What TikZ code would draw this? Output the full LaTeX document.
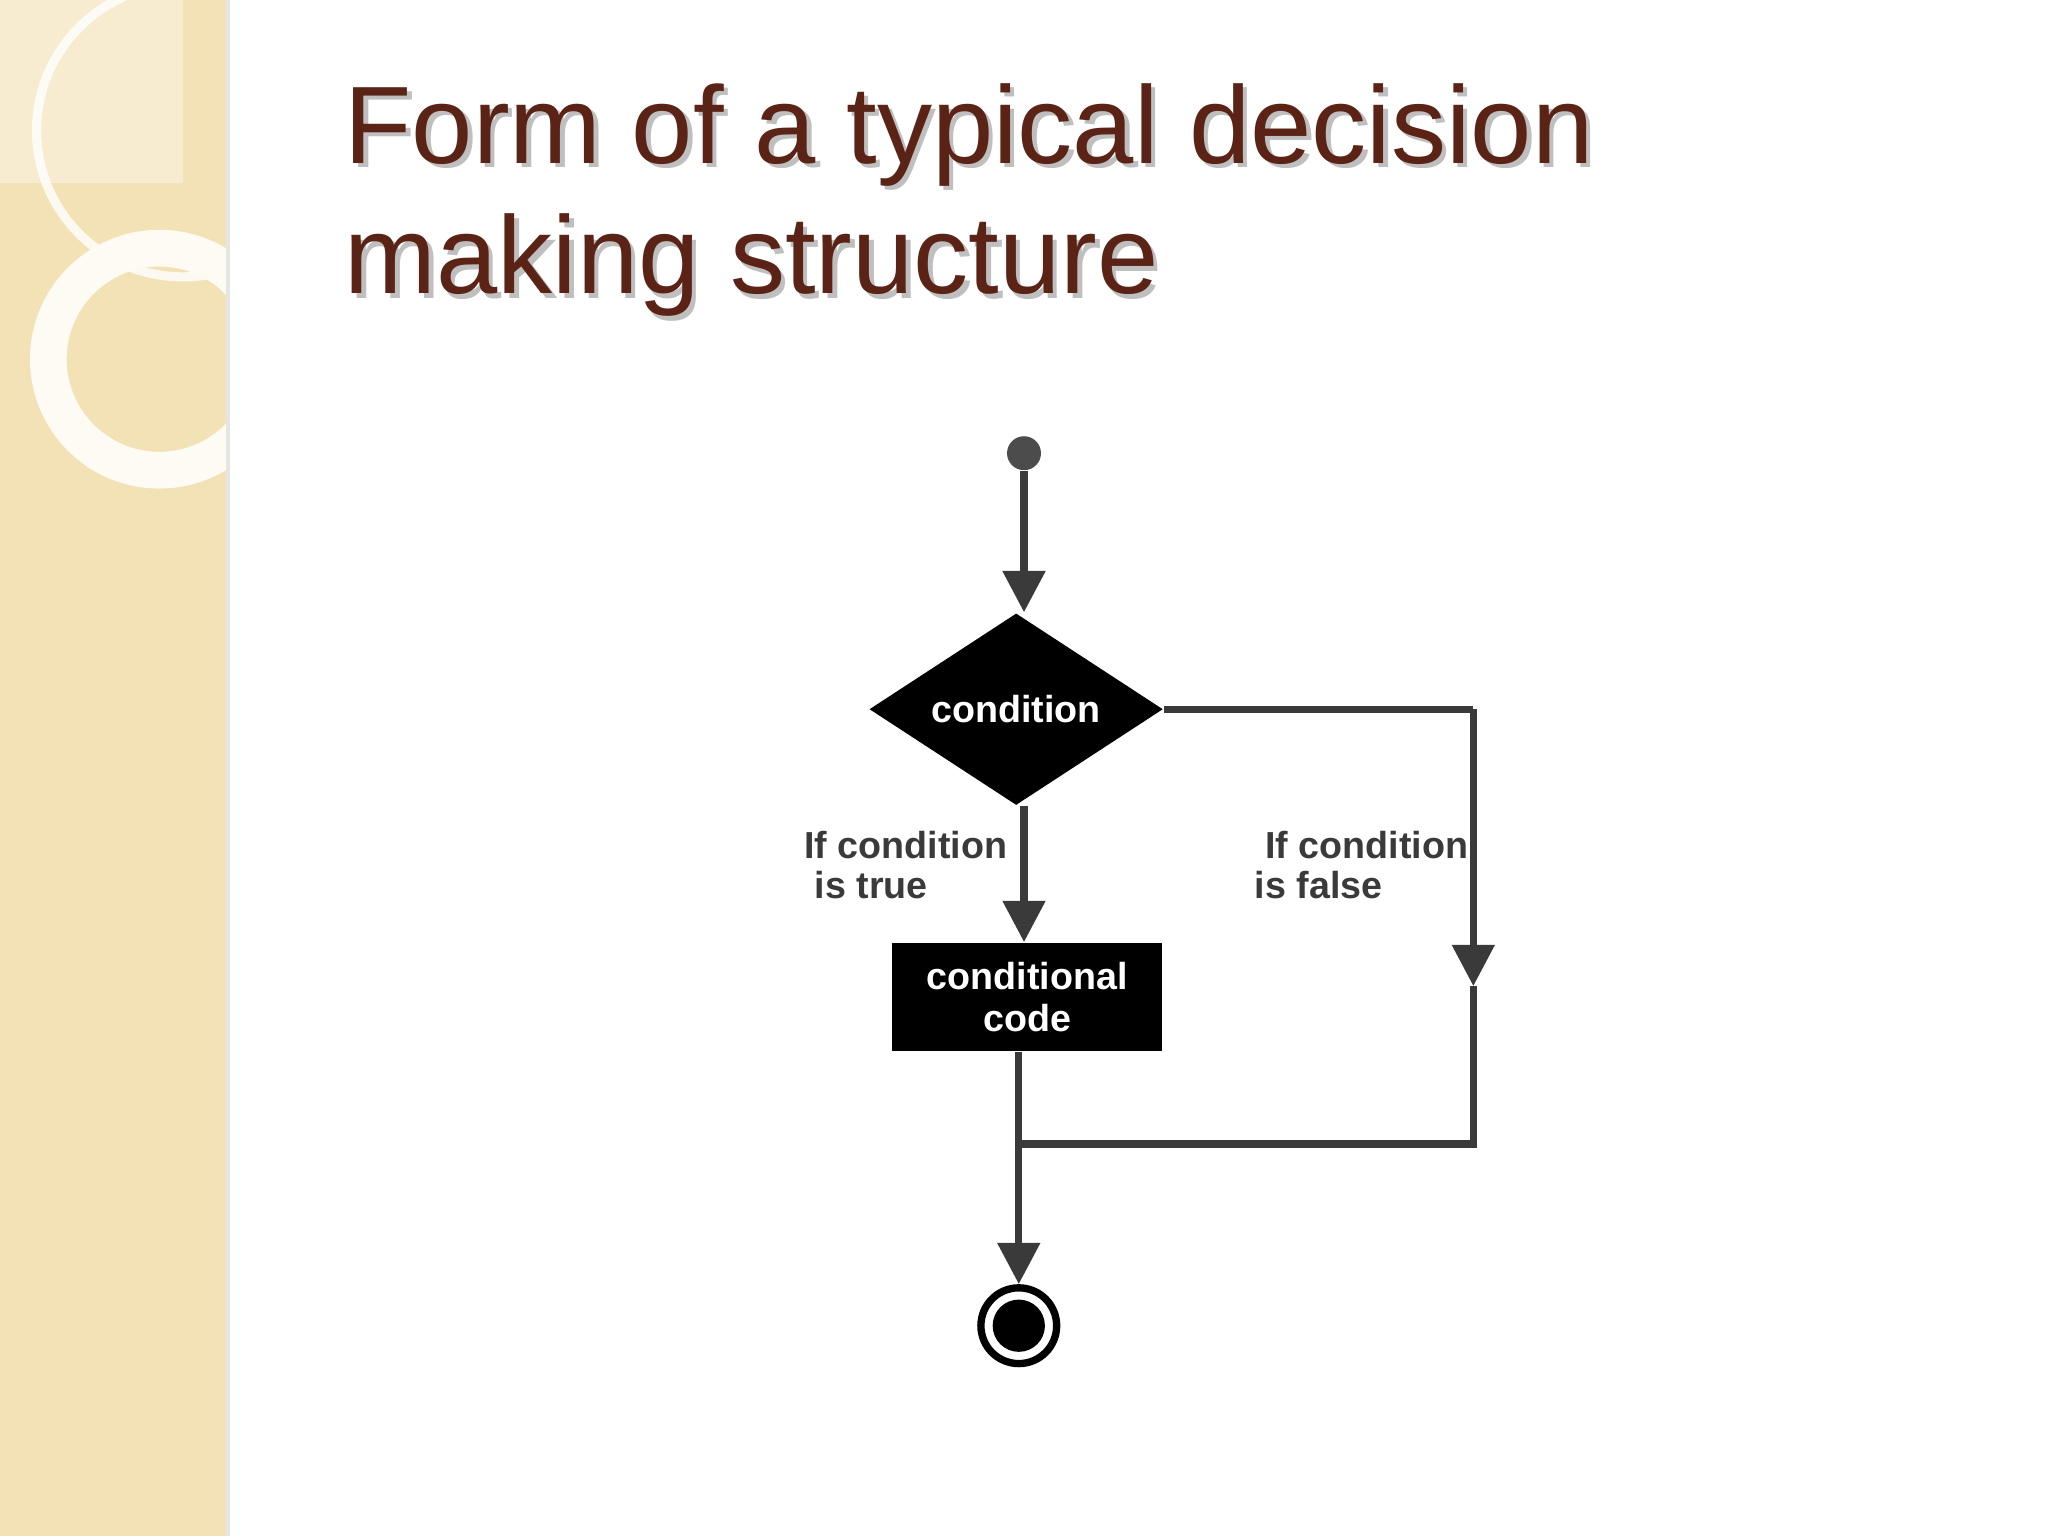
\documentclass[tikz,border=0pt]{standalone}
\usepackage{fontspec}
\setmainfont{Liberation Sans}
\usetikzlibrary{shapes.geometric,arrows.meta}
\definecolor{strip}{HTML}{F3E2B6}
\definecolor{titlec}{HTML}{5A2316}
\definecolor{lnc}{HTML}{3A3A3A}
\tikzset{
  conn/.style={draw=lnc,line width=1.6pt},
  arr/.style={conn,-{Triangle[length=9pt,width=9pt]}},
  lbl/.style={font=\fontsize{8.2}{8.6}\selectfont\bfseries,text=lnc,align=left,inner sep=0pt,anchor=north west},
  wtxt/.style={text=white,font=\fontsize{8.2}{9.2}\selectfont\bfseries,align=center}
}
\begin{document}
\begin{tikzpicture}[x=1cm,y=-1cm]
\useasboundingbox (0,0) rectangle (15.68,11.76);
\fill[white] (0,0) rectangle (15.68,11.76);
\fill[strip] (0,0) rectangle (1.73,11.76);
\fill[black!10] (1.73,0) rectangle (1.76,11.76);
\begin{scope}
\clip (0,0) rectangle (1.73,11.76);
\fill[white,opacity=0.35] (0,0) rectangle (1.4,1.4);
\draw[white,line width=2pt,opacity=0.8] (1.4,1.0) circle (1.12);
\draw[white!85!strip,line width=8pt] (1.22,2.75) circle (0.85);
\end{scope}
% title
\node[anchor=base west,inner sep=0pt,text=black!25,font=\fontsize{24}{28}\selectfont,align=left] at (2.665,1.285) {Form of a typical decision};
\node[anchor=base west,inner sep=0pt,text=black!25,font=\fontsize{24}{28}\selectfont,align=left] at (2.665,2.285) {making structure};
\node[anchor=base west,inner sep=0pt,text=titlec,font=\fontsize{24}{28}\selectfont] (t1) at (2.63,1.25) {Form of a typical decision};
\node[anchor=base west,inner sep=0pt,text=titlec,font=\fontsize{24}{28}\selectfont] (t2) at (2.63,2.25) {making structure};
% nodes
\node[circle,fill=black!70,minimum size=0.26cm,inner sep=0pt] (start) at (7.84,3.47) {};
\node[diamond,fill=black,minimum width=2.25cm,minimum height=1.47cm,inner sep=0pt,aspect=1.5,wtxt] (cond) at (7.78,5.43) {condition};
\node[rectangle,fill=black,minimum width=2.07cm,minimum height=0.83cm,inner sep=0pt,wtxt] (code) at (7.865,7.635) {conditional\\code};
\node[circle,draw=black,line width=1.6pt,minimum size=0.58cm,inner sep=0pt] (stop) at (7.80,10.15) {};
\fill[black] (stop.center) circle (0.2);
\coordinate (r1) at (11.28,5.43);
\coordinate (r2) at (11.28,7.55);
\coordinate (r3) at (11.28,8.76);
\coordinate (j) at (7.80,8.76);
% connectors
\draw[arr] (start) -- (start|-cond.north);
\draw[arr] (7.84,6.17) -- (code.north-|7.84,0);
\draw[conn] (cond.east) -- (r1);
\draw[arr] (r1) -- (r2);
\draw[conn] (r2) -- (r3) -- (j);
\draw[arr] (code.south-|j) -- (stop.north);
% labels
\node[lbl] (lt) at (6.15,6.36) {If condition\\\ is true};
\node[lbl] (lf) at (9.60,6.36) {\ If condition\\is false};
\end{tikzpicture}
\end{document}
